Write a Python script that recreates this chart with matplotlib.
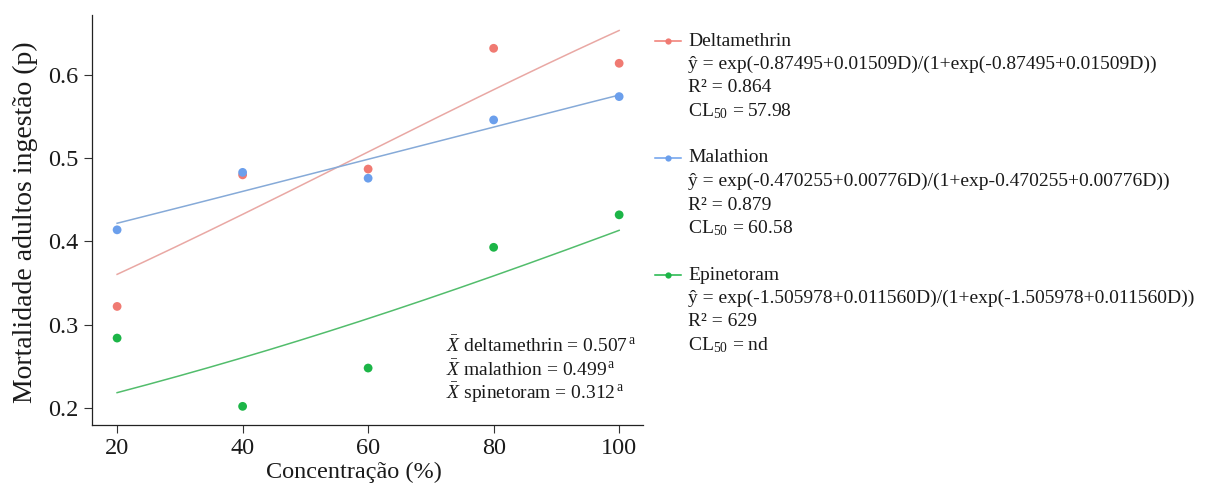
import numpy as np
import matplotlib
matplotlib.use("Agg")
import matplotlib.pyplot as plt

plt.rcParams['font.family'] = ['Liberation Serif', 'DejaVu Serif']
plt.rcParams['mathtext.fontset'] = 'custom'
plt.rcParams['mathtext.rm'] = 'Liberation Serif'
plt.rcParams['mathtext.it'] = 'Liberation Serif:italic'

# ---- data ----
concentration = [20, 40, 60, 80, 100]
deltamethrin = [0.322, 0.480, 0.487, 0.632, 0.614]
malathion = [0.414, 0.483, 0.476, 0.546, 0.574]
epinetoram = [0.284, 0.202, 0.248, 0.393, 0.432]

# logistic fit coefficients (a, b) as printed in the legend
coef_deltamethrin = [-0.87495, 0.01509]
coef_malathion = [-0.470255, 0.00776]
coef_epinetoram = [-1.505978, 0.011560]

series_names = ["Deltamethrin", "Malathion", "Epinetoram"]
legend_lines = [
    ["ŷ = exp(-0.87495+0.01509D)/(1+exp(-0.87495+0.01509D))",
     "R² = 0.864", "CL$_{50}$ = 57.98"],
    ["ŷ = exp(-0.470255+0.00776D)/(1+exp-0.470255+0.00776D))",
     "R² = 0.879", "CL$_{50}$ = 60.58"],
    ["ŷ = exp(-1.505978+0.011560D)/(1+exp(-1.505978+0.011560D))",
     "R² = 629", "CL$_{50}$ = nd"],
]
mean_labels = [r"$\bar{X}$ deltamethrin = 0.507$^{\,\rm a}$",
               r"$\bar{X}$ malathion = 0.499$^{\,\rm a}$",
               r"$\bar{X}$ spinetoram = 0.312$^{\,\rm a}$"]
x_ticks = [20, 40, 60, 80, 100]
y_ticks = [0.2, 0.3, 0.4, 0.5, 0.6]

point_colors = ["#F07A72", "#6B9FEC", "#1CB547"]
line_colors = ["#E9A8A4", "#86AAD8", "#52BD6C"]

W, H = 1208, 488
fig = plt.figure(figsize=(W / 100, H / 100), dpi=100)
ax = fig.add_axes([92 / W, 1 - 425 / H, (643 - 92) / W, (425 - 15) / H])

D = np.linspace(20, 100, 200)
all_vals = [deltamethrin, malathion, epinetoram]
all_coefs = [coef_deltamethrin, coef_malathion, coef_epinetoram]
for vals, coef, pc, lc in zip(all_vals, all_coefs, point_colors, line_colors):
    z = np.exp(coef[0] + coef[1] * D)
    ax.plot(D, z / (1 + z), color=lc, lw=1.1, zorder=2)
    ax.scatter(concentration, vals, s=40, color=pc, edgecolors='none', zorder=3)

ax.set_xlim(16.0, 103.8)
ax.set_ylim(0.1796, 0.672)
ax.set_xticks(x_ticks)
ax.set_xticklabels([str(v) for v in x_ticks])
ax.set_yticks(y_ticks)
ax.set_yticklabels([f"{v:.1f}" for v in y_ticks])
ax.tick_params(axis='both', labelsize=17.5, length=6, width=0.8, direction='out',
               color='#333333', labelcolor='#1a1a1a')
ax.spines['top'].set_visible(False)
ax.spines['right'].set_visible(False)
for s in ['left', 'bottom']:
    ax.spines[s].set_linewidth(0.9)
    ax.spines[s].set_color('#222222')

fig.text(25 / W, 1 - 222 / H, "Mortalidade adultos ingestão (p)", rotation=90,
         ha='center', va='center', fontsize=20, color='#1a1a1a')
fig.text(354 / W, 1 - 472 / H, "Concentração (%)", ha='center', va='center',
         fontsize=17.5, color='#1a1a1a')

# mean annotation
for i, t in enumerate(mean_labels):
    fig.text(446 / W, 1 - (346 + 23.5 * i) / H, t, ha='left', va='center',
             fontsize=14, color='#1a1a1a')

# legend
title_y = [41, 158, 275]
for name, lines, pc, ty in zip(series_names, legend_lines, point_colors, title_y):
    yy = 1 - ty / H
    fig.add_artist(plt.Line2D([655 / W, 681 / W], [yy, yy], color=pc, lw=1.1,
                              transform=fig.transFigure))
    fig.add_artist(plt.Line2D([668 / W], [yy], marker='o', markersize=4.5,
                              color=pc, markeredgecolor='none',
                              transform=fig.transFigure))
    fig.text(688 / W, yy, name, ha='left', va='center', fontsize=14, color='#1a1a1a')
    for j, ln in enumerate(lines):
        fig.text(688 / W, 1 - (ty + 23.5 * (j + 1)) / H, ln, ha='left',
                 va='center', fontsize=14, color='#1a1a1a')

fig.savefig("out.png", dpi=100, facecolor='white')
